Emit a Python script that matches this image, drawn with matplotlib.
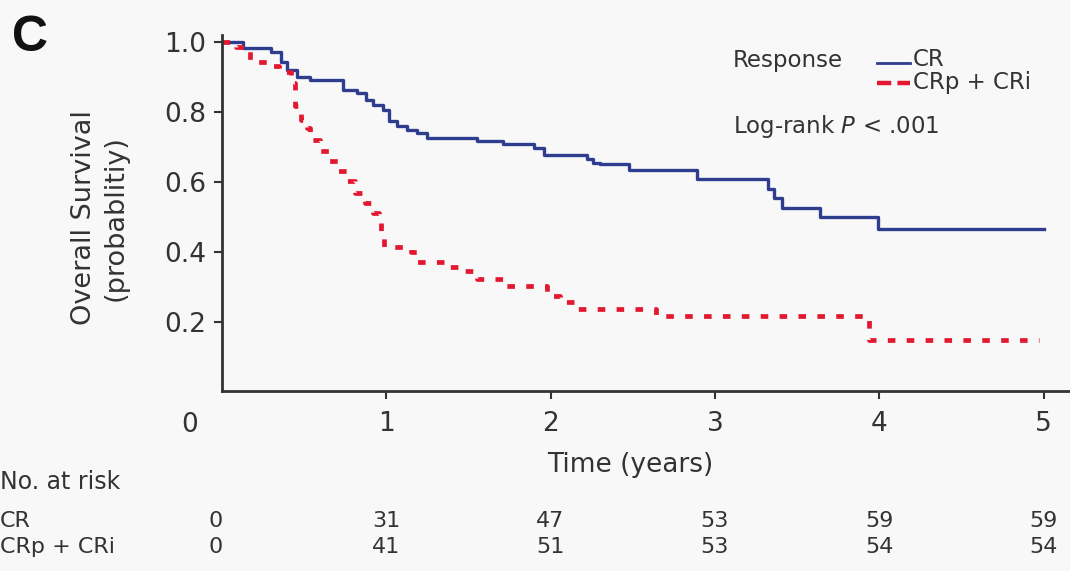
import matplotlib
matplotlib.use("Agg")
from matplotlib import pyplot as plt
import matplotlib.transforms as mtransforms

# Kaplan-Meier steps
cr_time = [0, 0.13, 0.30, 0.36, 0.40, 0.46, 0.54, 0.74, 0.82, 0.88, 0.92, 0.98,
           1.02, 1.065, 1.13, 1.19, 1.25, 1.55, 1.71, 1.90, 1.96, 2.22, 2.26,
           2.30, 2.48, 2.89, 3.32, 3.36, 3.41, 3.64, 3.99, 5.0]
cr_surv = [1.0, 0.983, 0.97, 0.944, 0.92, 0.90, 0.89, 0.863, 0.854, 0.835, 0.82,
           0.806, 0.773, 0.759, 0.749, 0.74, 0.726, 0.716, 0.707, 0.698, 0.678,
           0.665, 0.655, 0.65, 0.635, 0.607, 0.579, 0.555, 0.526, 0.498, 0.464,
           0.464]

crp_time = [0, 0.09, 0.17, 0.28, 0.35, 0.42, 0.445, 0.48, 0.52, 0.54, 0.60, 0.65,
            0.71, 0.76, 0.81, 0.87, 0.92, 0.955, 0.97, 0.99, 1.15, 1.19, 1.37,
            1.48, 1.55, 1.71, 1.98, 2.06, 2.15, 2.64, 3.94, 4.97]
crp_surv = [1.0, 0.987, 0.944, 0.93, 0.915, 0.882, 0.816, 0.778, 0.754, 0.72,
            0.687, 0.659, 0.63, 0.602, 0.569, 0.54, 0.512, 0.483, 0.44, 0.412,
            0.398, 0.37, 0.355, 0.346, 0.322, 0.303, 0.274, 0.255, 0.236, 0.216,
            0.146, 0.146]

risk_years = [0, 1, 2, 3, 4, 5]
risk_cr = [0, 31, 47, 53, 59, 59]
risk_crp = [0, 41, 51, 53, 54, 54]

blue = "#2f3d8f"
red = "#e3172f"
grey = "#333333"
bg = "#f8f8f8"

fig = plt.figure(figsize=(10.7, 5.71), dpi=100, facecolor=bg)
ax = fig.add_axes([0.2072, 0.3144, 0.7928, 0.6243], facecolor=bg)

ax.step(cr_time, cr_surv, where="post", color=blue, lw=2.4)
ax.step(crp_time, crp_surv, where="post", color=red, lw=3.4,
        linestyle=(0, (1.6, 2.4)))

ax.set_xlim(0, 5.16)
ax.set_ylim(0, 1.02)
ax.set_xticks([1, 2, 3, 4, 5])
ax.set_yticks([0.2, 0.4, 0.6, 0.8, 1.0])
ax.set_yticklabels(["0.2", "0.4", "0.6", "0.8", "1.0"])
for s in ["top", "right"]:
    ax.spines[s].set_visible(False)
for s in ["left", "bottom"]:
    ax.spines[s].set_color(grey)
    ax.spines[s].set_linewidth(2)
ax.tick_params(axis="y", length=6, width=1.5, color=grey, pad=5,
               labelsize=19, labelcolor=grey)
ax.tick_params(axis="x", length=6, width=1.5, color=grey, pad=8,
               labelsize=19, labelcolor=grey)

ax.set_ylabel("Overall Survival\n(probablitiy)", fontsize=19.5, color=grey,
              linespacing=1.25)
ax.yaxis.set_label_coords(-0.11, 0.487)

# corner zero and panel letter
fig.text(190 / 1070, 1 - 425 / 571, "0", fontsize=19, color=grey,
         ha="center", va="center")
fig.text(30 / 1070, 1 - 38 / 571, "C", fontsize=36, fontweight="bold",
         color="#111111", family="Liberation Sans", ha="center", va="center")

# legend drawn by hand
fig.text(733 / 1070, 1 - 60 / 571, "Response", fontsize=16.5, color=grey,
         ha="left", va="center")
ax.add_line(plt.Line2D([877 / 1070, 910 / 1070], [1 - 63 / 571, 1 - 63 / 571],
                       transform=fig.transFigure, color=blue, lw=2))
ax.add_line(plt.Line2D([877 / 1070, 910 / 1070], [1 - 83 / 571, 1 - 83 / 571],
                       transform=fig.transFigure, color=red, lw=3.2,
                       linestyle=(0, (3.2, 1.4))))
fig.text(913 / 1070, 1 - 60 / 571, "CR", fontsize=16.5, color=grey,
         ha="left", va="center")
fig.text(913 / 1070, 1 - 83 / 571, "CRp + CRi", fontsize=16.5, color=grey,
         ha="left", va="center")
fig.text(733 / 1070, 1 - 126 / 571, r"Log-rank $\it{P}$ < .001", fontsize=16.5,
         color=grey, ha="left", va="center")

# x label and risk table
fig.text(630 / 1070, 1 - 465 / 571, "Time (years)", fontsize=19, color=grey,
         ha="center", va="center")
fig.text(0.0, 1 - 482 / 571, "No. at risk", fontsize=17, color=grey,
         ha="left", va="center")
fig.text(0.0, 1 - 521 / 571, "CR", fontsize=16, color=grey,
         ha="left", va="center")
fig.text(0.0, 1 - 547 / 571, "CRp + CRi", fontsize=16, color=grey,
         ha="left", va="center")
trans = mtransforms.blended_transform_factory(ax.transData, fig.transFigure)
for yr, a, b in zip(risk_years, risk_cr, risk_crp):
    xpos = yr if yr > 0 else -0.04
    ax.text(xpos, 1 - 521 / 571, str(a), transform=trans, fontsize=16,
            color=grey, ha="center", va="center", clip_on=False)
    ax.text(xpos, 1 - 547 / 571, str(b), transform=trans, fontsize=16,
            color=grey, ha="center", va="center", clip_on=False)

fig.savefig("out.png", dpi=100, facecolor=bg)
